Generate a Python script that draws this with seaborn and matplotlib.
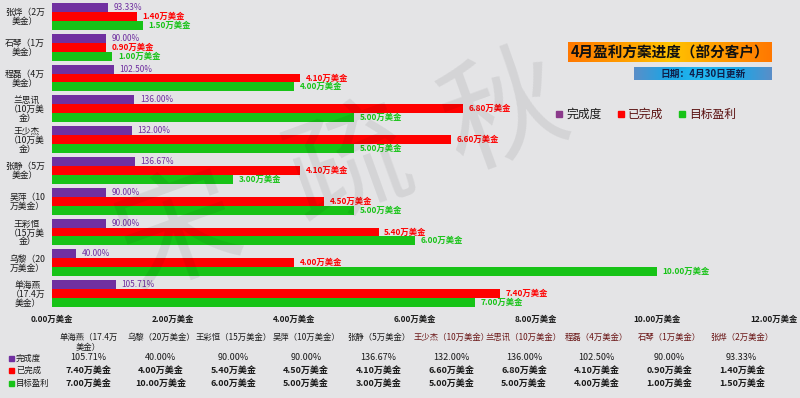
import matplotlib
matplotlib.use('Agg')
import matplotlib.pyplot as plt
import numpy as np
import pandas as pd
import seaborn as sns
from matplotlib.patches import Rectangle
from matplotlib.transforms import blended_transform_factory, offset_copy

# ---- data (table order, left to right) ----
clients = ['单海燕', '乌黎', '王彩恒', '吴萍', '张静', '王少杰', '兰思讯', '程磊', '石琴', '张烨']
plan = ['17.4', '20', '15', '10', '5', '10', '10', '4', '1', '2']
completion_pct = [105.71, 40.00, 90.00, 90.00, 136.67, 132.00, 136.00, 102.50, 90.00, 93.33]
done = [7.40, 4.00, 5.40, 4.50, 4.10, 6.60, 6.80, 4.10, 0.90, 1.40]
goal = [7.00, 10.00, 6.00, 5.00, 3.00, 5.00, 5.00, 4.00, 1.00, 1.50]
y_labels = ['单海燕\n（17.4万\n美金）', '乌黎（20\n万美金）', '王彩恒\n（15万美\n金）', '吴萍（10\n万美金）',
            '张静（5万\n美金）', '王少杰\n（10万美\n金）', '兰思讯\n（10万美\n金）', '程磊（4万\n美金）',
            '石琴（1万\n美金）', '张烨（2万\n美金）']
series = ['完成度', '已完成', '目标盈利']
colors = ['#7030a0', '#ff0000', '#17c317']
x_ticks = [0, 2, 4, 6, 8, 10, 12]

plt.rcParams['font.family'] = ['Noto Sans CJK SC', 'DejaVu Sans']
bg = '#e4e4e6'

headers = ['{}（{}万美金）'.format(c, p) for c, p in zip(clients, plan)]
rows = []
for i, h in enumerate(headers):
    rows.append((h, series[0], completion_pct[i] / 100))
    rows.append((h, series[1], done[i]))
    rows.append((h, series[2], goal[i]))
df = pd.DataFrame(rows, columns=['client', 'series', 'value'])
order = headers[::-1]

fig = plt.figure(figsize=(8, 3.98), dpi=100)
fig.patch.set_facecolor(bg)
ax = fig.add_axes([52 / 800, 1 - 309 / 398, 726 / 800, 308 / 398])
ax.set_facecolor(bg)

sns.barplot(data=df, y='client', x='value', hue='series', order=order, hue_order=series,
            palette=colors, orient='h', width=0.87, saturation=1, legend=False, ax=ax)

ax.set_xlim(0, 12)
ax.set_xticks(x_ticks)
tick_txt = ['{:.2f}万美金'.format(v) for v in x_ticks]
ax.set_xticklabels(tick_txt[:-1] + [''], fontsize=6, color='#1a1a1a', fontweight='bold')
# last tick label drawn right-aligned so it stays inside the picture
tr_x = blended_transform_factory(ax.transData, fig.transFigure)
ax.text(x_ticks[-1], 1 - 319 / 398, tick_txt[-1], transform=offset_copy(tr_x, fig=fig, x=20, y=0, units='dots'),
        ha='right', va='center', fontsize=6, color='#1a1a1a', fontweight='bold')
ax.set_yticks(range(len(order)))
ax.set_yticklabels(y_labels[::-1], fontsize=6.3, color='#1a1a1a', multialignment='center', linespacing=1.0)
ax.tick_params(length=0)
ax.tick_params(axis='y', pad=5)
ax.tick_params(axis='x', pad=4)
ax.set_xlabel('')
ax.set_ylabel('')
for s in ax.spines.values():
    s.set_visible(False)

# value labels
idx = [clients.index(h.split('（')[0]) for h in order]
lab_sets = [
    ['{:.2f}%'.format(completion_pct[i]) for i in idx],
    ['{:.2f}万美金'.format(done[i]) for i in idx],
    ['{:.2f}万美金'.format(goal[i]) for i in idx],
]
for k, cont in enumerate(ax.containers):
    ax.bar_label(cont, labels=lab_sets[k], padding=4, fontsize=6, color=colors[k],
                 fontweight='normal' if k == 0 else 'bold')

# watermark
for ch, (px, py) in zip('宋疏秋', [(180, 235), (350, 170), (505, 115)]):
    fig.text(px / 800, 1 - py / 398, ch, fontsize=88, color='black', alpha=0.07,
             rotation=20, ha='center', va='center', zorder=10)

# title boxes with gradients
tax = fig.add_axes([568 / 800, 1 - 62 / 398, 204 / 800, 20 / 398])
grad = np.abs(np.linspace(-1, 1, 256))
cmap_o = matplotlib.colors.LinearSegmentedColormap.from_list('o', ['#ffc400', '#ff9a00', '#ff7800'])
tax.imshow(grad[None, :], aspect='auto', cmap=cmap_o, extent=[0, 1, 0, 1])
tax.axis('off')
tax.text(0.5, 0.5, '4月盈利方案进度（部分客户）', ha='center', va='center', fontsize=10.5,
         fontweight='bold', color='#111111')

dax = fig.add_axes([634 / 800, 1 - 80 / 398, 138 / 800, 13 / 398])
cmap_b = matplotlib.colors.LinearSegmentedColormap.from_list('b', ['#22b8f0', '#1aa6e6', '#5a8ec8'])
dax.imshow(grad[None, :], aspect='auto', cmap=cmap_b, extent=[0, 1, 0, 1])
dax.axis('off')
dax.text(0.5, 0.5, '日期：4月30日更新', ha='center', va='center', fontsize=7,
         fontweight='bold', color='#10204a')

# legend
leg_x = [556, 618, 679]
leg_text_colors = ['#1a1a1a', '#5a1010', '#5a1010']
for k in range(3):
    fig.add_artist(Rectangle((leg_x[k] / 800, 1 - 117 / 398), 6 / 800, 6 / 398,
                             transform=fig.transFigure, color=colors[k] if k else '#8b3a8b'))
    fig.text((leg_x[k] + 10) / 800, 1 - 114 / 398, series[k], fontsize=8.5,
             color=leg_text_colors[k], va='center', ha='left')

# data table under the chart
tr = blended_transform_factory(ax.transAxes, fig.transFigure)
n = len(clients)
for i in range(n):
    cx = (i + 0.5) / n
    hc = '#1a1a1a' if i < 5 else '#6a1515'
    txt = headers[i]
    if len(txt) > 10:
        txt = txt[:9] + '\n' + txt[9:]
    ax.text(cx, 1 - 333 / 398, txt, transform=tr, ha='center', va='top', fontsize=6,
            color=hc, multialignment='center')
    ax.text(cx, 1 - 358 / 398, '{:.2f}%'.format(completion_pct[i]), transform=tr,
            ha='center', va='center', fontsize=6.5, color='#1a1a1a')
    ax.text(cx, 1 - 370 / 398, '{:.2f}万美金'.format(done[i]), transform=tr,
            ha='center', va='center', fontsize=6.5, color='#1a1a1a', fontweight='bold')
    ax.text(cx, 1 - 383 / 398, '{:.2f}万美金'.format(goal[i]), transform=tr,
            ha='center', va='center', fontsize=6.5, color='#1a1a1a', fontweight='bold')

for k, ry in enumerate([358, 370, 383]):
    fig.add_artist(Rectangle((9 / 800, 1 - (ry + 3) / 398), 5 / 800, 5 / 398,
                             transform=fig.transFigure, color=colors[k]))
    fig.text(16 / 800, 1 - ry / 398, series[k], fontsize=6, color='#1a1a1a', va='center', ha='left')

fig.savefig('out.png', dpi=100, facecolor=bg)
